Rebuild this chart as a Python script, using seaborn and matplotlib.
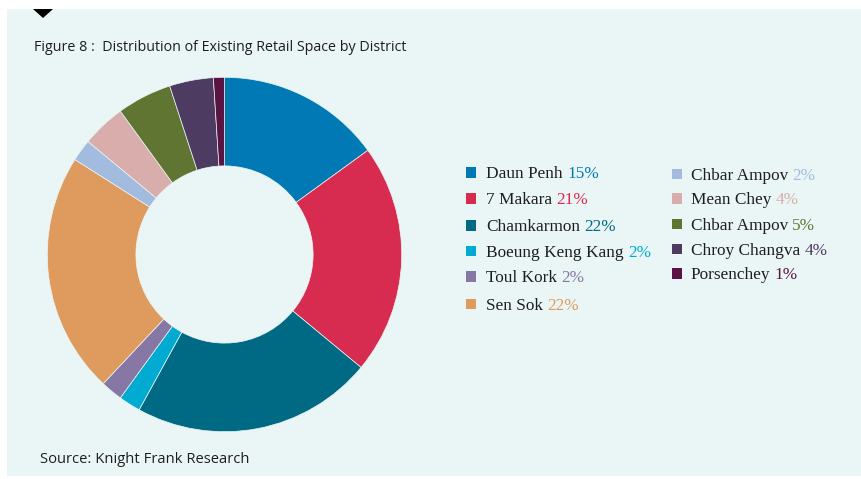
import matplotlib
matplotlib.use("Agg")
import matplotlib.pyplot as plt
from matplotlib.patches import Rectangle, Polygon
import seaborn as sns

# Retail space share by district (%)
districts = ["Daun Penh", "7 Makara", "Chamkarmon", "Boeung Keng Kang", "Toul Kork",
             "Sen Sok", "Chbar Ampov", "Mean Chey", "Chbar Ampov", "Chroy Changva",
             "Porsenchey"]
shares = [15, 21, 22, 2, 2, 22, 2, 4, 5, 4, 1]
colors = ["#0079B4", "#D72B4F", "#006A84", "#00AAD1", "#8677A5", "#DF9B5D",
          "#A2BBDF", "#D9ADAC", "#607532", "#4E3B62", "#5B1343"]
title = "Figure 8 :  Distribution of Existing Retail Space by District"
source = "Source: Knight Frank Research"

W, H = 862, 479
sns.set_theme(style="white")
palette = sns.color_palette(colors)
PANEL = "#EAF6F6"
INK = "#1E1E1E"

fig = plt.figure(figsize=(W / 100, H / 100), dpi=100)
fig.patch.set_facecolor("white")
renderer = fig.canvas.get_renderer()


def fx(x):
    return x / W


def fy(y):
    return 1 - y / H


# background panel and marker triangle
fig.add_artist(Rectangle((fx(7), fy(476)), 1 - fx(7), (476 - 9) / H,
                         transform=fig.transFigure, facecolor=PANEL,
                         edgecolor="none", zorder=0))
fig.add_artist(Polygon([(fx(33), fy(9)), (fx(53), fy(9)), (fx(43), fy(18))],
                       closed=True, transform=fig.transFigure,
                       facecolor="black", edgecolor="none", zorder=1))

# donut
cx, cy, r = 224.5, 254.5, 177.2
ax = fig.add_axes([fx(cx - r), fy(cy + r), 2 * r / W, 2 * r / H])
ax.pie(shares, colors=palette, startangle=90, counterclock=False, radius=1,
       wedgeprops=dict(width=0.5, edgecolor=PANEL, linewidth=0.5))
ax.set_xlim(-1, 1)
ax.set_ylim(-1, 1)
ax.axis("off")


def fit_text(x, y, s, width, **kw):
    t = fig.text(fx(x), fy(y), s, **kw)
    w = t.get_window_extent(renderer).width
    t.set_fontsize(t.get_fontsize() * width / w)
    return t


fit_text(34, 50.7, title, 372, family=["Open Sans", "DejaVu Sans"],
         color=INK, va="baseline", fontsize=11)
fit_text(40, 463.3, source, 210,
         family=["DejaVu Sans Condensed", "Open Sans", "DejaVu Sans"],
         color=INK, va="baseline", fontsize=11)

# legend: two columns of swatch, name and coloured share
serif = ["DejaVu Serif Condensed", "Liberation Serif", "DejaVu Serif"]
probe = fig.text(0, 0, "Daun Penh 15%", family=serif, fontsize=12)
leg_fs = 12 * 112 / probe.get_window_extent(renderer).width
probe.remove()

columns = [(466, 486, [172.7, 198.3, 225.7, 251, 276.7, 304]),
           (671.7, 690.7, [174, 198.3, 224, 249, 273.3])]
box = 10.5
slots = [(c[0], c[1], yy) for c in columns for yy in c[2]]
for (xb, xt, yc), name, val, col in zip(slots, districts, shares, palette):
    fig.add_artist(Rectangle((fx(xb), fy(yc + box / 2)), box / W, box / H,
                             transform=fig.transFigure, facecolor=col,
                             edgecolor="none"))
    t = fig.text(fx(xt), fy(yc + 5.6), name, family=serif, fontsize=leg_fs,
                 color=INK, va="baseline")
    x1 = t.get_window_extent(renderer).x1
    gap = 0.25 * leg_fs * 100 / 72
    fig.text((x1 + gap) / W, fy(yc + 5.6), f"{val}%", family=serif,
             fontsize=leg_fs, color=col, va="baseline")

fig.savefig("out.png", dpi=100, facecolor="white")
